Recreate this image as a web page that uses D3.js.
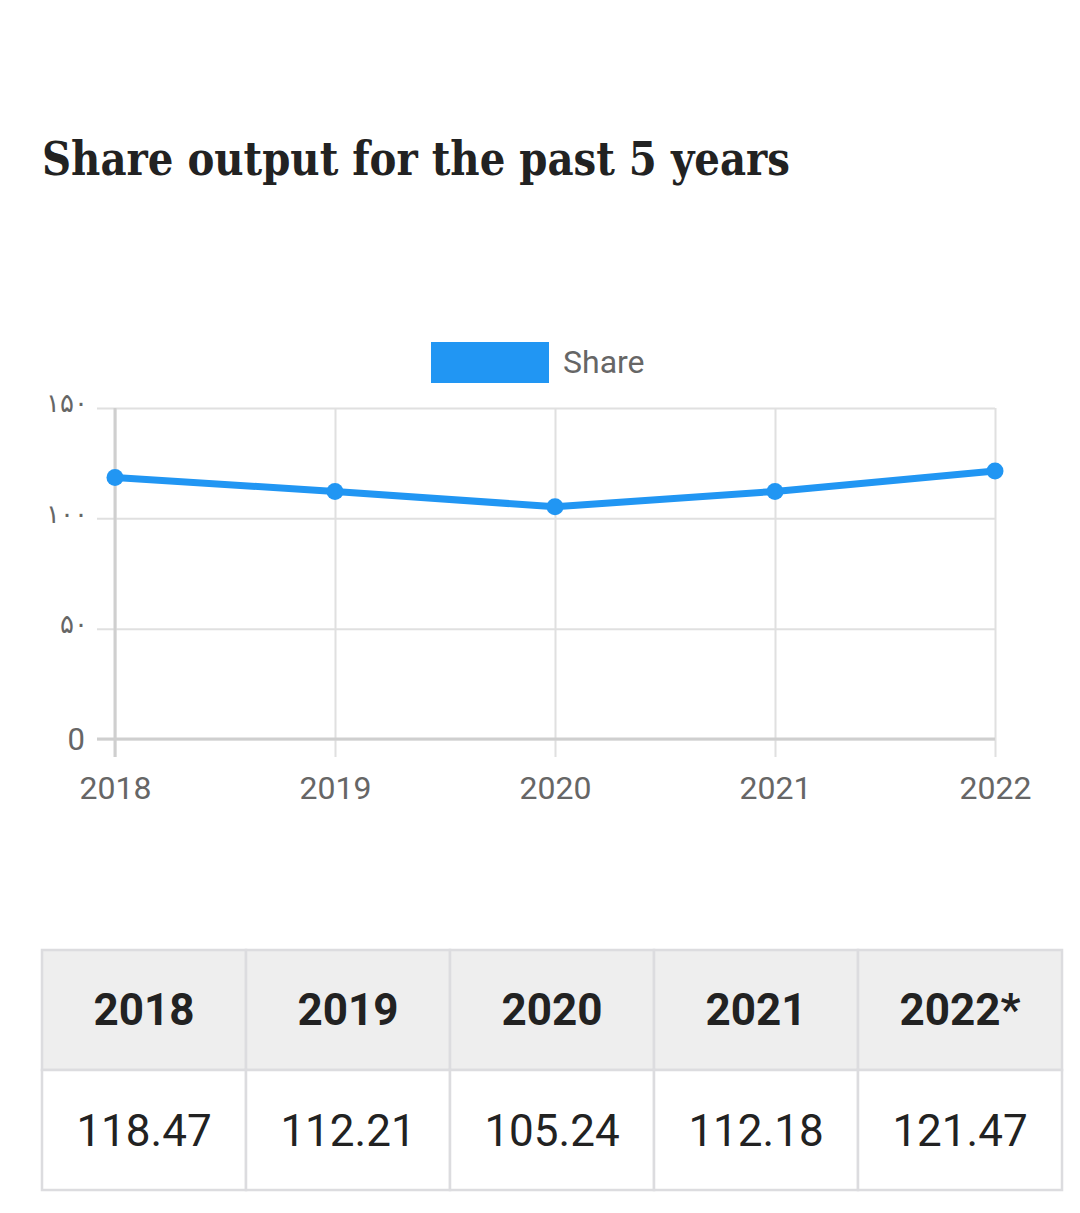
<!DOCTYPE html>
<html><head><meta charset="utf-8">
<script src="https://cdn.jsdelivr.net/npm/d3@7"></script>
<style>
html,body{margin:0;padding:0;background:#fff;}
svg{display:block;}
</style></head>
<body>
<script>
const title = "Share output for the past 5 years";
const seriesName = "Share";
const years = ["2018","2019","2020","2021","2022"];
const values = [118.47, 112.21, 105.24, 112.18, 121.47];
const tableHeaders = ["2018","2019","2020","2021","2022*"];
const tableValues = ["118.47","112.21","105.24","112.18","121.47"];
const yTicks = [0, 50, 100, 150];
const yTickLabels = ["0","۵۰","۱۰۰","۱۵۰"];

const W = 1080, H = 1213;
const svg = d3.select("body").append("svg").attr("width", W).attr("height", H);
const blue = "#2196F3";

svg.append("text").attr("x", 42).attr("y", 175)
  .attr("font-family", "'DejaVu Serif', serif").attr("font-weight", "bold")
  .attr("font-stretch", "condensed")
  .attr("font-size", 46).attr("fill", "#222")
  .attr("textLength", 748).attr("lengthAdjust", "spacingAndGlyphs")
  .text(title);

// legend
svg.append("rect").attr("x", 431).attr("y", 342).attr("width", 118).attr("height", 41).attr("fill", blue);
svg.append("text").attr("x", 563).attr("y", 373).attr("font-family", "Roboto, sans-serif")
  .attr("font-size", 32).attr("fill", "#666").text(seriesName);

const x = d3.scalePoint().domain(years).range([115, 995]);
const y = d3.scaleLinear().domain([0, 150]).range([739, 408]);

// horizontal gridlines
const gy = svg.append("g").attr("transform", "translate(115,0)")
  .call(d3.axisLeft(y).tickValues(yTicks).tickSize(-880).tickSizeOuter(0).tickFormat((d,i)=>yTickLabels[i]).tickPadding(30));
gy.select(".domain").remove();
gy.selectAll(".tick line").attr("stroke", "#e0e0e0").attr("stroke-width", 2).attr("x1", -18);
gy.selectAll(".tick text").attr("fill", "#666").attr("font-family", "Roboto, 'DejaVu Sans', sans-serif")
  .attr("font-size", d => d === 0 ? 31 : 26).attr("dy", d => d === 0 ? "0.35em" : "0.15em")
  .attr("dx", d => d === 0 ? 0 : 3);

// vertical gridlines
const gx = svg.append("g").attr("transform", "translate(0,739)")
  .call(d3.axisBottom(x).tickSize(18).tickSizeOuter(0).tickPadding(19));
gx.select(".domain").remove();
gx.selectAll(".tick line").attr("stroke", "#e0e0e0").attr("stroke-width", 2).attr("y1", -331);
gx.selectAll(".tick text").attr("fill", "#666").attr("font-family", "Roboto, sans-serif").attr("font-size", 32);

// axis lines
svg.append("line").attr("x1", 115).attr("x2", 115).attr("y1", 408).attr("y2", 757).attr("stroke", "#cfcfcf").attr("stroke-width", 3);
svg.append("line").attr("x1", 97).attr("x2", 995).attr("y1", 739).attr("y2", 739).attr("stroke", "#cfcfcf").attr("stroke-width", 3);

const line = d3.line().x((d,i)=>x(years[i])).y(d=>y(d));
svg.append("path").datum(values).attr("d", line).attr("fill", "none").attr("stroke", blue).attr("stroke-width", 7);
svg.selectAll("circle.pt").data(values).join("circle").attr("class","pt")
  .attr("cx", (d,i)=>x(years[i])).attr("cy", d=>y(d)).attr("r", 8.5).attr("fill", blue);

// table
const tx = 42, tw = 1020, colW = tw / 5, rowH = 120, ty = 950;
const tb = svg.append("g");
tb.selectAll("rect.h").data(tableHeaders).join("rect").attr("class","h")
  .attr("x", (d,i)=>tx + i*colW).attr("y", ty).attr("width", colW).attr("height", rowH)
  .attr("fill", "#eeeeee").attr("stroke", "#dcdcdf").attr("stroke-width", 2.5);
tb.selectAll("rect.b").data(tableValues).join("rect").attr("class","b")
  .attr("x", (d,i)=>tx + i*colW).attr("y", ty + rowH).attr("width", colW).attr("height", rowH)
  .attr("fill", "#fff").attr("stroke", "#dcdcdf").attr("stroke-width", 2.5);
tb.selectAll("text.h").data(tableHeaders).join("text").attr("class","h")
  .attr("x", (d,i)=>tx + i*colW + colW/2).attr("y", ty + 75).attr("text-anchor","middle")
  .attr("font-family","Roboto, sans-serif").attr("font-weight","bold").attr("font-size", 44).attr("fill","#222").text(d=>d);
tb.selectAll("text.b").data(tableValues).join("text").attr("class","b")
  .attr("x", (d,i)=>tx + i*colW + colW/2).attr("y", ty + rowH + 76).attr("text-anchor","middle")
  .attr("font-family","Roboto, sans-serif").attr("font-size", 44).attr("fill","#222").text(d=>d);
</script>
</body></html>
